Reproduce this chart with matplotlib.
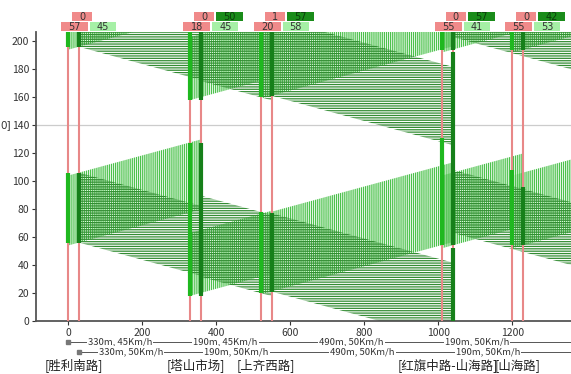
import matplotlib
matplotlib.use('Agg')
import matplotlib.pyplot as plt
from matplotlib.patches import Polygon, Rectangle
from matplotlib.lines import Line2D
import matplotlib.transforms as mtrans

plt.rcParams['font.family'] = ['Noto Sans CJK SC', 'DejaVu Sans']
plt.rcParams['hatch.linewidth'] = 0.9

# ---------------- data ----------------
cycle = 140
names = ['[胜利南路]', '[塔山市场]', '[上齐西路]', '[红旗中路-山海路]', '[山海路]']
positions = [0, 330, 520, 1010, 1200]
line_gap = 30
# green windows (start, end) on the first (light) and second (dark) stop line
green_first = [(56, 106), (18, 127), (20, 78), (54, 131), (54, 108)]
green_second = [(56, 106), (18, 127), (21, 77), (54, 192), (54, 96)]
# top labels
lab_low_red = ['57', '18', '20', '55', '55']
lab_low_green = ['45', '45', '58', '41', '53']
lab_up_red = ['0', '0', '1', '0', '0']
lab_up_green = ['', '50', '57', '57', '42']
# link descriptions
links_row1 = ['330m, 45Km/h', '190m, 45Km/h', '490m, 50Km/h', '190m, 50Km/h']
links_row2 = ['330m, 50Km/h', '190m, 50Km/h', '490m, 50Km/h', '190m, 50Km/h']
# travel time per metre (s/m)
pace = 0.072
# outbound bands (x0, x1, t_low at x0, t_high at x0)
out_x0 = [0, 330, 520, 1010, 1200]
out_x1 = [360, 550, 1040, 1230, 1400]
out_lo = [54, 18, 19, 52, 52]
out_hi = [104, 63, 76, 104, 104]
# inbound bands (x0, x1, t_low at x0, t_high at x0)
in_x0 = [30, 360, 550, 1040]
in_x1 = [360, 550, 1040, 1400]
in_lo = [56, 31.5, 21, 63]
in_hi = [106, 89.5, 77, 108]

xticks = [0, 200, 400, 600, 800, 1000, 1200]
yticks = list(range(0, 201, 20))

# ---------------- figure ----------------
W, H = 571, 374
fig = plt.figure(figsize=(W / 100, H / 100), dpi=100)
ax = fig.add_axes([36 / W, (H - 321) / H, (571 - 36) / W, (321 - 31.5) / H])
ax.set_xlim(-87, 1359)
ax.set_ylim(0, 207)

for s in ['top', 'right']:
    ax.spines[s].set_visible(False)
for s in ['left', 'bottom']:
    ax.spines[s].set_color('#555555')
    ax.spines[s].set_linewidth(1.3)
ax.set_xticks(xticks)
ax.set_yticks(yticks)
ax.tick_params(labelsize=7.5, colors='#333333', length=3, width=0.8, pad=2)

ax.axhline(140, color='#cccccc', lw=0.9, zorder=0)

V_COL = (0.30, 0.76, 0.30, 1.0)
H_COL = (0.20, 0.55, 0.20, 1.0)

ks = [-2, -1, 0, 1, 2]
for x0, x1, lo, hi in zip(out_x0, out_x1, out_lo, out_hi):
    dt = (x1 - x0) * pace
    for k in ks:
        o = k * cycle
        poly = Polygon([(x0, lo + o), (x1, lo + o + dt), (x1, hi + o + dt), (x0, hi + o)],
                       closed=True, facecolor='none', edgecolor=V_COL, lw=0,
                       hatch='|' * 8, zorder=2)
        ax.add_patch(poly)
for x0, x1, lo, hi in zip(in_x0, in_x1, in_lo, in_hi):
    dt = (x1 - x0) * pace
    for k in ks:
        o = k * cycle
        poly = Polygon([(x0, lo + o), (x1, lo + o - dt), (x1, hi + o - dt), (x0, hi + o)],
                       closed=True, facecolor='none', edgecolor=H_COL, lw=0,
                       hatch='-' * 7, zorder=2)
        ax.add_patch(poly)

# stop lines and green bars
for p, g1, g2 in zip(positions, green_first, green_second):
    for xx in (p, p + line_gap):
        ax.axvline(xx, color='#e88888', lw=1.5, zorder=3)
    for k in ks:
        o = k * cycle
        ax.vlines(p, g1[0] + o, g1[1] + o, color='#1fb81f', lw=3.0, zorder=4)
        ax.vlines(p + line_gap, g2[0] + o, g2[1] + o, color='#16801a', lw=3.0, zorder=4)

# ---------------- top labels ----------------
fig.canvas.draw()


def px_of(xdata):
    return ax.transData.transform((xdata, 0))[0]


def box(xl, ytop, w, h, fc, txt, tc='#333333'):
    fig.add_artist(Rectangle((xl / W, 1 - (ytop + h) / H), w / W, h / H,
                             transform=fig.transFigure, facecolor=fc, edgecolor='none'))
    if txt:
        fig.text((xl + w / 2) / W, 1 - (ytop + h / 2 + 0.5) / H, txt, ha='center', va='center',
                 fontsize=7, color=tc, family='DejaVu Sans')


for i, p in enumerate(positions):
    L = px_of(p)
    wr = 14 + 6 * len(lab_up_red[i])
    box(L + 4, 11.5, wr, 9, '#f08a8a', lab_up_red[i])
    if lab_up_green[i]:
        box(L + 26, 11.5, 27, 9, '#1a8c1a', lab_up_green[i], '#0b3d0b')
    box(L - 7, 22, 27, 9, '#f08a8a', lab_low_red[i])
    box(L + 22, 22, 26, 9, '#a6f0a6', lab_low_green[i])

# ---------------- bottom link rows ----------------
blend = mtrans.blended_transform_factory(ax.transData, ax.transAxes)
row_y = [(321 - 341.5) / 289.5, (321 - 352) / 289.5]
row_start = [positions[0], positions[0] + line_gap]
for r, (yy, labels) in enumerate(zip(row_y, [links_row1, links_row2])):
    x_start = row_start[r]
    ax.add_line(Line2D([x_start, 1359], [yy, yy], transform=blend, color='#555555', lw=0.7,
                       clip_on=False))
    ax.add_line(Line2D([x_start], [yy], transform=blend, marker='s', ms=3.2, color='#777777',
                       clip_on=False))
    for j, lab in enumerate(labels):
        a = positions[j] + r * line_gap
        b = positions[j + 1] + r * line_gap
        shift = -25 if j == 0 else 0
        ax.text((a + b) / 2 + shift, yy, lab, transform=blend, ha='center', va='center',
                fontsize=6.8, color='#333333',
                bbox=dict(facecolor='white', edgecolor='none', boxstyle='square,pad=0.12'),
                clip_on=False)

# intersection names
for p, nm in zip(positions, names):
    ax.text(p + line_gap / 2, (321 - 365.5) / 289.5, nm, transform=blend, ha='center',
            va='center', fontsize=9, color='#222222', clip_on=False)

# left label (cut by the image edge in the original)
fig.text(11 / W, 1 - 125 / H, '0]', ha='right', va='center', fontsize=7.5, color='#333333',
         family='DejaVu Sans')

fig.savefig('out.png', dpi=100)
